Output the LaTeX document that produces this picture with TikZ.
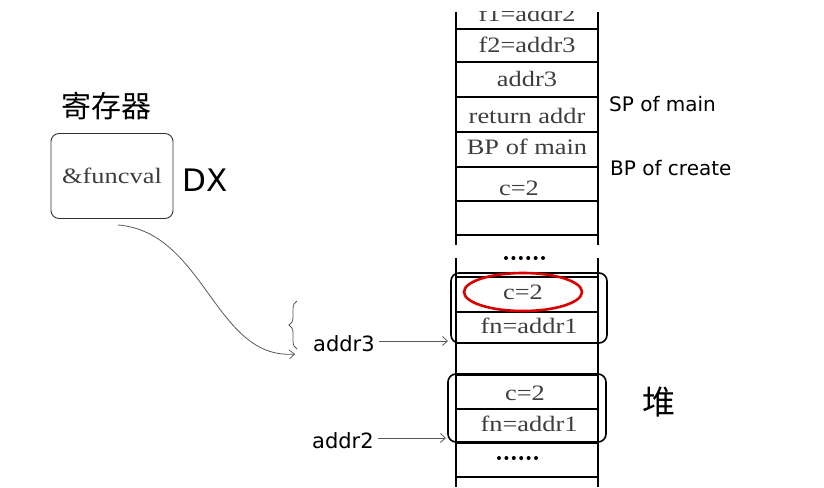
\documentclass[tikz,border=0pt]{standalone}
\usepackage{fontspec}
\setmainfont{Liberation Serif}
\newfontfamily\stackfont[FakeStretch=1.2]{Liberation Serif}
\newfontfamily\labelfont{DejaVu Sans}
\newfontfamily\cjk{Noto Sans CJK SC}
\usetikzlibrary{arrows.meta,decorations.pathreplacing,positioning}
\tikzset{
  cell/.style={inner sep=0pt, text=black!76, font=\stackfont\fontsize{22}{24}\selectfont},
  side/.style={inner sep=0pt, anchor=west, font=\labelfont\fontsize{20}{22}\selectfont},
  grid/.style={line width=1.8pt, black},
  heap/.style={line width=1.6pt, rounded corners=8pt, black},
  ptr/.style={black!65, line width=0.8pt, -{Straight Barb[length=5pt,width=9pt]}}
}
\begin{document}
\begin{tikzpicture}[x=1pt, y=-1pt]
  \useasboundingbox (0,0) rectangle (824,487);

  % --- 1. stack column ---
  \pgfmathsetmacro{\xl}{456}
  \pgfmathsetmacro{\xr}{598}
  \begin{scope}
    \clip (0,12) rectangle (824,487);
    \draw[grid] (\xl,12) -- (\xl,245) (\xr,12) -- (\xr,245);
    \draw[grid] (\xl,258) -- (\xl,487) (\xr,258) -- (\xr,487);
    \foreach \y in {29,62,97,132,167,201,235,277,312,343,375,409,443,477}
      \draw[grid] (\xl,\y) -- (\xr,\y);
    \node[cell] (f1) at (527,14) {f1=addr2};
  \end{scope}

  % cell texts
  \node[cell] (f2)   at (527,45)  {f2=addr3};
  \node[cell] (a3)   at (527,79)  {addr3};
  \node[cell] (ret)  at (527,116) {return addr};
  \node[cell] (bpm)  at (527,147) {BP of main};
  \node[cell] (c0)   at (519,188) {c=2};
  \node[cell] (ca)   at (523,292) {c=2};
  \node[cell] (fna)  at (529,326) {fn=addr1};
  \node[cell] (cb)   at (525,393) {c=2};
  \node[cell] (fnb)  at (529,424) {fn=addr1};

  % dots
  \foreach \i in {0,...,5} {
    \fill (506+7.4*\i,258) circle (2pt);
    \fill (499+7.4*\i,458) circle (2pt);
  }

  % --- 2. heap blocks ---
  \draw[heap] (451,273) rectangle (607,343);
  \draw[heap] (448,374) rectangle (606,442);
  \draw[red!85!black, line width=2.6pt] (ca) ellipse (59pt and 19pt);

  % --- 3. labels on the right ---
  \node[side] (sp) at (609,104) {SP of main};
  \node[side] (bpc) at (610,168) {BP of create};
  \node[inner sep=0pt, font=\cjk\fontsize{33}{35}\selectfont] (dui) at (659,402) {堆};

  % --- 4. register ---
  \node[inner sep=0pt, font=\cjk\fontsize{30}{32}\selectfont] (regtitle) at (106,106) {寄存器};
  \node[draw, line width=0.9pt, black!80, rounded corners=8pt, minimum width=122pt,
        minimum height=85pt, cell] (reg) at (112,176) {\&funcval};
  \node[inner sep=0pt, font=\labelfont\fontsize{31}{33}\selectfont] (dx) at (205,180) {DX};

  % --- 5. pointers ---
  \node[side, font=\labelfont\fontsize{21}{23}\selectfont] (lab3) at (313,344) {addr3};
  \node[side, font=\labelfont\fontsize{21}{23}\selectfont] (lab2) at (312,441) {addr2};
  \coordinate (h3) at (448,341);
  \coordinate (h2) at (446,438);
  \draw[ptr] (lab3.east) ++(4,-3) -- (h3);
  \draw[ptr] (lab2.east) ++(4,-3) -- (h2);

  \coordinate (src) at (118,225);
  \coordinate (dst) at (295,354);
  \draw[ptr] (src) .. controls (205,232) and (215,360) .. (dst);
  \draw[black!65, line width=0.8pt, decorate, decoration={brace, amplitude=8pt}]
    (297,349) -- (297,301);

\end{tikzpicture}
\end{document}
